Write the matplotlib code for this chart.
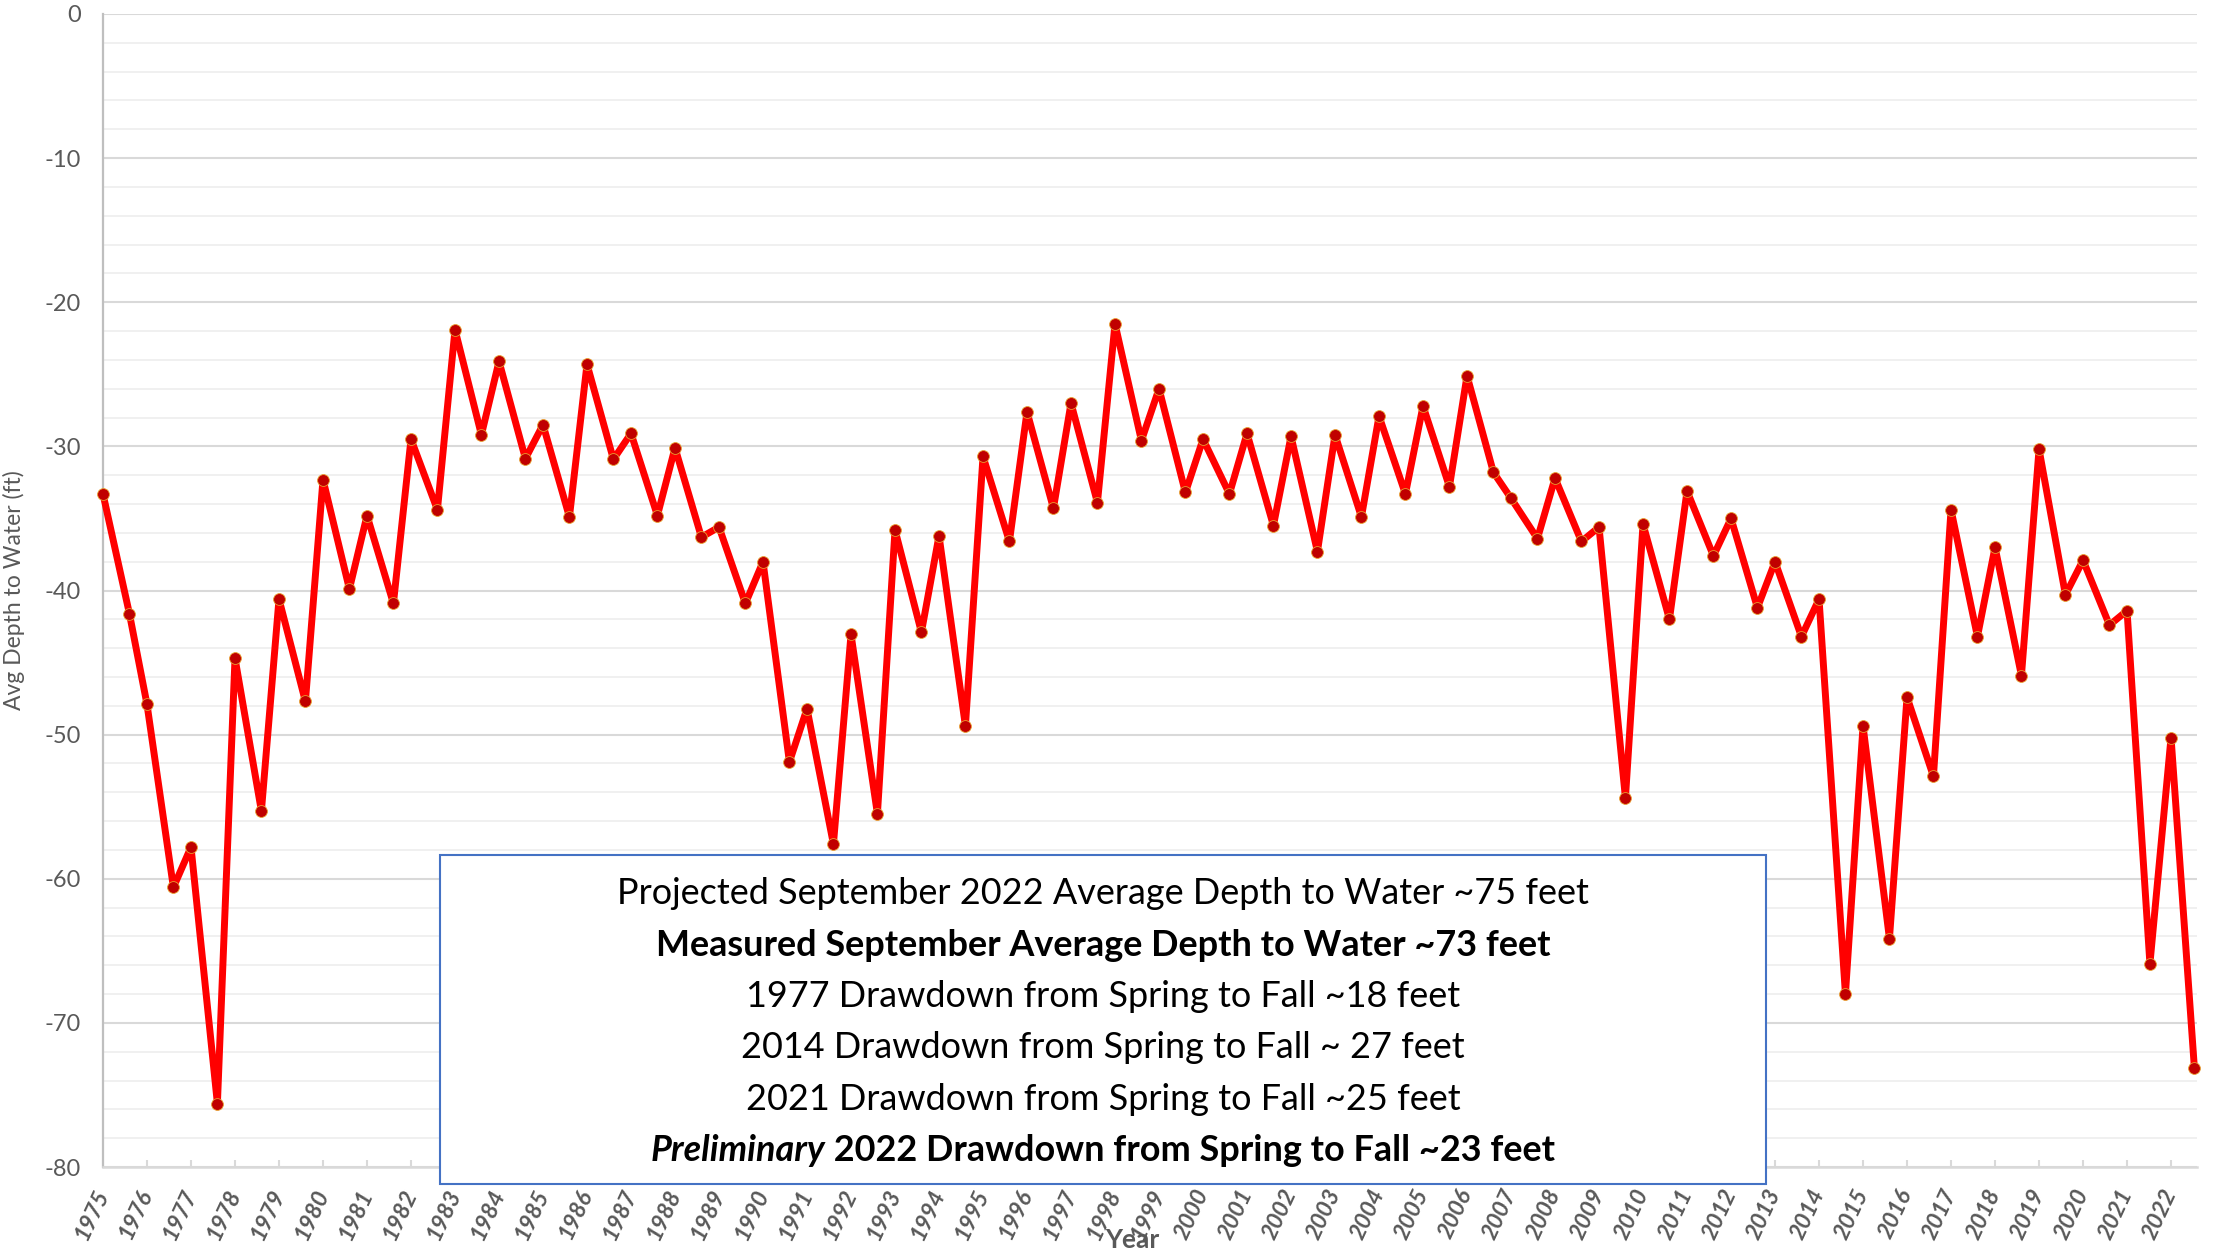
import matplotlib
matplotlib.use("Agg")
import matplotlib.pyplot as plt
from matplotlib.patches import Rectangle
from matplotlib.ticker import MultipleLocator, FixedLocator

plt.rcParams['font.family'] = ['Lato', 'DejaVu Sans']
plt.rcParams['axes.unicode_minus'] = False

# ---------------- data ----------------
years = list(range(1975, 2023))
spring_depth = [-33.3, -47.9, -57.8, -44.7, -40.6, -32.3, -34.8, -29.5, -21.9, -24.1,
                -28.5, -24.3, -29.1, -30.1, -35.6, -38.0, -48.2, -43.05, -35.8, -36.2,
                -30.7, -27.6, -27.0, -21.5, -26.0, -29.5, -29.1, -29.3, -29.2, -27.9,
                -27.2, -25.1, -33.6, -32.2, -35.6, -35.4, -33.1, -35.0, -38.0, -40.6,
                -49.4, -47.4, -34.4, -37.0, -30.2, -37.9, -41.4, -50.2]
fall_depth = [-41.6, -60.6, -75.6, -55.3, -47.7, -39.9, -40.9, -34.4, -29.2, -30.85,
              -34.9, -30.9, -34.8, -36.3, -40.9, -51.9, -57.6, -55.5, -42.9, -49.4,
              -36.6, -34.3, -33.9, -29.6, -33.2, -33.3, -35.5, -37.3, -34.9, -33.3,
              -32.8, -31.8, -36.4, -36.6, -54.4, -42.0, -37.6, -41.2, -43.2, -68.0,
              -64.15, -52.9, -43.2, -45.9, -40.3, -42.4, -65.9, -73.1]
# fraction of the year at which the fall measurement sits (spring at year start)
fall_offset = [0.6] * 46 + [0.52, 0.53]

box_lines = [
    "Projected September 2022 Average Depth to Water ~75 feet",
    "Measured September Average Depth to Water ~73 feet",
    "1977 Drawdown from Spring to Fall ~18 feet",
    "2014 Drawdown from Spring to Fall ~ 27 feet",
    "2021 Drawdown from Spring to Fall ~25 feet",
]
last_line_italic = "Preliminary"
last_line_rest = " 2022 Drawdown from Spring to Fall ~23 feet"

# -------------- build series --------------
xs, ys = [], []
for yr, sp, fa, off in zip(years, spring_depth, fall_depth, fall_offset):
    xs += [yr, yr + off]
    ys += [sp, fa]

W, H = 2216, 1252
fig = plt.figure(figsize=(W / 100, H / 100), dpi=100)
L, R, T, B = 103, 2197, 14, 1167
ax = fig.add_axes([L / W, 1 - B / H, (R - L) / W, (B - T) / H])

ax.plot(xs, ys, color='#FF0000', lw=5, marker='o', ms=8.5,
        mfc='#C00000', mec='#E8A030', mew=0.6, zorder=3, clip_on=False)

ax.set_xlim(1975, 2022.59)
ax.set_ylim(-80, 0)

ax.yaxis.set_major_locator(MultipleLocator(10))
ax.yaxis.set_minor_locator(MultipleLocator(2))
ax.grid(which='major', axis='y', color='#D9D9D9', lw=1.5, zorder=0)
ax.grid(which='minor', axis='y', color='#EFEFEF', lw=1.3, zorder=0)
ax.set_axisbelow(True)

for s in ['top', 'right']:
    ax.spines[s].set_visible(False)
ax.spines['left'].set_color('#BFBFBF')
ax.spines['left'].set_linewidth(1.6)
ax.spines['bottom'].set_color('#D9D9D9')
ax.spines['bottom'].set_linewidth(1.8)

ax.tick_params(axis='y', which='both', length=0, pad=16, labelsize=17,
               labelcolor='#595959')
ax.xaxis.set_major_locator(FixedLocator(years))
ax.set_xticklabels([str(y) for y in years], rotation=65, ha='right',
                   va='center', rotation_mode='anchor',
                   fontweight='bold', fontstyle='italic')
ax.tick_params(axis='x', direction='in', length=5, width=1.5, color='#D9D9D9',
               pad=17, labelsize=16.5, labelcolor='#595959')

ax.set_ylabel("Avg Depth to Water (ft)", fontsize=16.5, color='#595959')
ax.yaxis.set_label_coords(-(103 - 25) / (R - L), 0.5)
ax.set_xlabel("Year", fontsize=19, fontweight='bold', color='#595959')
ax.xaxis.set_label_coords((1132 - L) / (R - L), -(1240 - B) / (B - T))
ax.xaxis.label.set_va('center')

# -------------- text box --------------
bx0, bx1, by0, by1 = 440, 1766, 855, 1184
rect = Rectangle((bx0 / W, 1 - by1 / H), (bx1 - bx0) / W, (by1 - by0) / H,
                 transform=fig.transFigure, facecolor='white',
                 edgecolor='#4472C4', lw=1.5, zorder=10)
fig.add_artist(rect)

cx = (bx0 + bx1) / 2 / W
baselines = [904, 955.5, 1007, 1058, 1109.5, 1161]

fig.canvas.draw()
r = fig.canvas.get_renderer()
probe = fig.text(0, 0, box_lines[0], fontsize=20)
w0 = probe.get_window_extent(r).width
probe.remove()
fs = 20 * 975 / w0

for i, txt in enumerate(box_lines):
    fig.text(cx, 1 - baselines[i] / H, txt, fontsize=fs, ha='center',
             va='baseline', color='black', zorder=11,
             fontweight='bold' if i == 1 else 'normal')

ta = fig.text(0, 1 - baselines[5] / H, last_line_italic, fontsize=fs,
              fontweight='bold', fontstyle='italic', va='baseline', zorder=11)
tb = fig.text(0, 1 - baselines[5] / H, last_line_rest, fontsize=fs,
              fontweight='bold', va='baseline', zorder=11)
wa = ta.get_window_extent(r).width
wb = tb.get_window_extent(r).width
x0 = (bx0 + bx1) / 2 - (wa + wb) / 2
ta.set_x(x0 / W)
tb.set_x((x0 + wa) / W)

fig.savefig("out.png", dpi=100)
